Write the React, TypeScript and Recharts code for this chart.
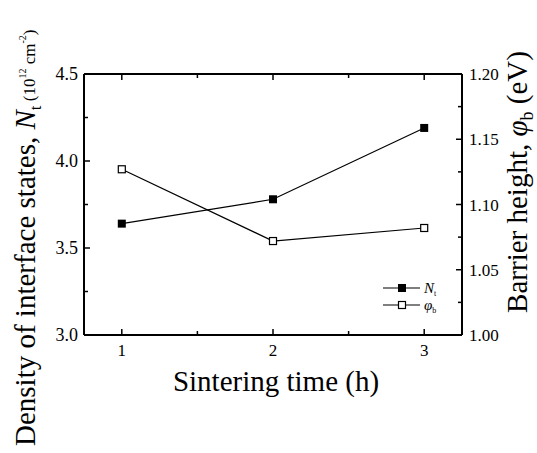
import { ComposedChart, Line, XAxis, YAxis } from 'recharts';

const times = [1, 2, 3];
const ntValues = [3.64, 3.78, 4.19];
const phiValues = [1.127, 1.072, 1.082];

const xTicks = [1, 1.5, 2, 2.5, 3];
const xLabels = [1, 2, 3];
const leftTicks = [3.0, 3.25, 3.5, 3.75, 4.0, 4.25, 4.5];
const leftLabels = ['3.0', '3.5', '4.0', '4.5'];
const rightTicks = [1.0, 1.025, 1.05, 1.075, 1.1, 1.125, 1.15, 1.175, 1.2];
const rightLabels = ['1.00', '1.05', '1.10', '1.15', '1.20'];

const data = times.map((t, i) => ({ t, nt: ntValues[i], phi: phiValues[i] }));

const FONT = '"Liberation Serif", "Times New Roman", serif';
const TICK_LEN = 6;

const BottomTick = ({ x, y, payload }: any) => {
  const labeled = xLabels.includes(payload.value);
  return (
    <g>
      <line x1={x} y1={y} x2={x} y2={y - (labeled ? TICK_LEN : TICK_LEN - 2)} stroke="#000" strokeWidth={1.5} />
      {labeled && (
        <text x={x} y={y + 21} textAnchor="middle" fontFamily={FONT} fontSize={17} fill="#000">
          {payload.value}
        </text>
      )}
    </g>
  );
};

const TopTick = ({ x, y, payload }: any) => {
  const labeled = xLabels.includes(payload.value);
  return <line x1={x} y1={y} x2={x} y2={y + (labeled ? TICK_LEN : TICK_LEN - 2)} stroke="#000" strokeWidth={1.5} />;
};

const LeftTick = ({ x, y, payload }: any) => {
  const label = payload.value.toFixed(1);
  const labeled = leftLabels.includes(label) && Math.abs(payload.value * 2 - Math.round(payload.value * 2)) < 1e-6;
  return (
    <g>
      <line x1={x} y1={y} x2={x + (labeled ? TICK_LEN : TICK_LEN - 2)} y2={y} stroke="#000" strokeWidth={1.5} />
      {labeled && (
        <text x={x - 6} y={y + 6} textAnchor="end" fontFamily={FONT} fontSize={18} fill="#000">
          {label}
        </text>
      )}
    </g>
  );
};

const RightTick = ({ x, y, payload }: any) => {
  const label = payload.value.toFixed(2);
  const labeled = rightLabels.includes(label) && Math.abs(payload.value * 20 - Math.round(payload.value * 20)) < 1e-6;
  return (
    <g>
      <line x1={x} y1={y} x2={x - (labeled ? TICK_LEN : TICK_LEN - 2)} y2={y} stroke="#000" strokeWidth={1.5} />
      {labeled && (
        <text x={x + 7} y={y + 6} textAnchor="start" fontFamily={FONT} fontSize={17} fill="#000">
          {label}
        </text>
      )}
    </g>
  );
};

const FilledSquare = ({ cx, cy }: any) =>
  cx == null ? null : <rect x={cx - 4} y={cy - 4} width={8} height={8} fill="#000" />;

const OpenSquare = ({ cx, cy }: any) =>
  cx == null ? null : <rect x={cx - 3.5} y={cy - 3.5} width={7} height={7} fill="#fff" stroke="#000" strokeWidth={1.2} />;

export default function App() {
  return (
    <div style={{ position: 'absolute', left: 0, top: 0, width: 537, height: 453, background: '#fff' }}>
      <ComposedChart
        width={537}
        height={453}
        data={data}
        margin={{ top: 73, right: 25, left: 34, bottom: 88 }}
      >
        <XAxis
          xAxisId="bottom"
          dataKey="t"
          type="number"
          domain={[0.75, 3.25]}
          ticks={xTicks}
          tick={<BottomTick />}
          tickSize={0}
          tickMargin={0}
          tickLine={false}
          axisLine={{ stroke: '#000', strokeWidth: 2 }}
          height={30}
          interval={0}
        />
        <XAxis
          xAxisId="top"
          orientation="top"
          dataKey="t"
          type="number"
          domain={[0.75, 3.25]}
          ticks={xTicks}
          tick={<TopTick />}
          tickSize={0}
          tickMargin={0}
          tickLine={false}
          axisLine={{ stroke: '#000', strokeWidth: 2 }}
          height={1}
          interval={0}
        />
        <YAxis
          yAxisId="left"
          type="number"
          domain={[3.0, 4.5]}
          ticks={leftTicks}
          tick={<LeftTick />}
          tickSize={0}
          tickMargin={0}
          tickLine={false}
          axisLine={{ stroke: '#000', strokeWidth: 2 }}
          width={50}
          interval={0}
        />
        <YAxis
          yAxisId="right"
          orientation="right"
          type="number"
          domain={[1.0, 1.2]}
          ticks={rightTicks}
          tick={<RightTick />}
          tickSize={0}
          tickMargin={0}
          tickLine={false}
          axisLine={{ stroke: '#000', strokeWidth: 2 }}
          width={50}
          interval={0}
        />
        <Line
          xAxisId="bottom"
          yAxisId="left"
          dataKey="nt"
          stroke="#000"
          strokeWidth={1.2}
          dot={<FilledSquare />}
          activeDot={false}
          isAnimationActive={false}
        />
        <Line
          xAxisId="bottom"
          yAxisId="right"
          dataKey="phi"
          stroke="#000"
          strokeWidth={1.2}
          dot={<OpenSquare />}
          activeDot={false}
          isAnimationActive={false}
        />
      </ComposedChart>
      <svg
        width={537}
        height={453}
        style={{ position: 'absolute', left: 0, top: 0, pointerEvents: 'none' }}
      >
        {/* legend */}
        <line x1={383} y1={288} x2={420} y2={288} stroke="#000" strokeWidth={1.2} />
        <rect x={398} y={284} width={8} height={8} fill="#000" />
        <text x={424} y={293} fontFamily={FONT} fontSize={15} fontStyle="italic">
          N<tspan fontStyle="normal" fontSize={8} dy={3}>t</tspan>
        </text>
        <line x1={383} y1={305} x2={420} y2={305} stroke="#000" strokeWidth={1.2} />
        <rect x={398.5} y={301.5} width={7} height={7} fill="#fff" stroke="#000" strokeWidth={1.2} />
        <text x={424} y={310} fontFamily={FONT} fontSize={15} fontStyle="italic">
          φ<tspan fontStyle="normal" fontSize={8} dy={3}>b</tspan>
        </text>

        <text
          transform="translate(35, 446) rotate(-90)"
          fontFamily={FONT}
          fontSize={29}
          fill="#000"
        >
          Density of interface states, <tspan fontStyle="italic">N</tspan>
          <tspan fontSize={17} dy={6}>t</tspan>
          <tspan fontSize={17} dy={-6}> (10</tspan>
          <tspan fontSize={10} dy={-9}>12</tspan>
          <tspan fontSize={17} dy={9}> cm</tspan>
          <tspan fontSize={10} dy={-9}>-2</tspan>
          <tspan fontSize={17} dy={9}>)</tspan>
        </text>
        <text
          transform="translate(527, 182) rotate(-90)"
          textAnchor="middle"
          fontFamily={FONT}
          fontSize={29}
          fill="#000"
        >
          Barrier height, <tspan fontStyle="italic">φ</tspan>
          <tspan fontSize={18} dy={6}>b</tspan>
          <tspan dy={-6}> (eV)</tspan>
        </text>
        <text x={276} y={391} textAnchor="middle" fontFamily={FONT} fontSize={29} fill="#000">
          Sintering time (h)
        </text>
      </svg>
    </div>
  );
}
